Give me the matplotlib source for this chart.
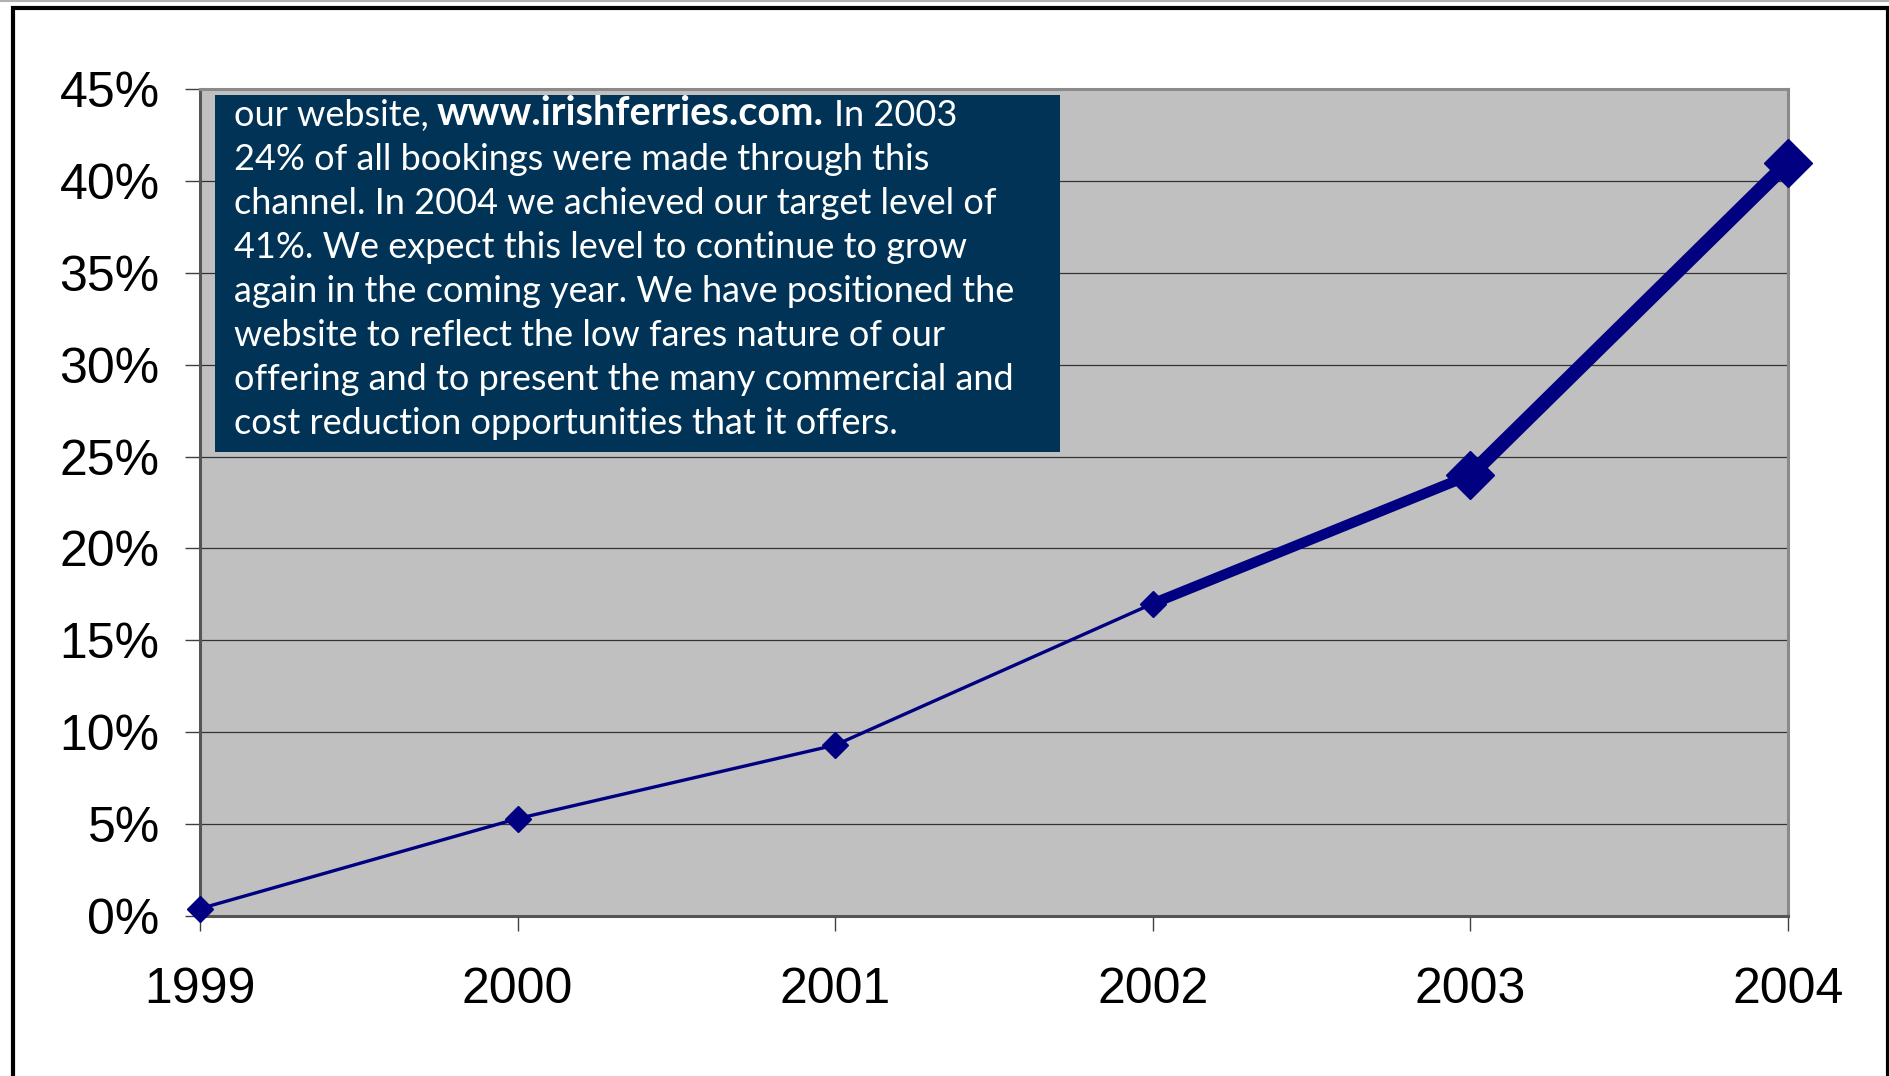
import matplotlib.pyplot as plt
from matplotlib.patches import Rectangle
from matplotlib.lines import Line2D
from matplotlib.text import Annotation

# web bookings as share of all bookings (%)
years = [1999, 2000, 2001, 2002, 2003, 2004]
share = [0.4, 5.3, 9.3, 17.0, 24.0, 41.0]
y_ticks = [0, 5, 10, 15, 20, 25, 30, 35, 40, 45]

# line gets heavier towards the end, like the original
seg_width = [2.4, 2.4, 2.4, 7.5, 10.5]
marker_size = [13, 13, 13, 13, 24, 24]

note_head = "our website,"
note_url = "www.irishferries.com."
note_tail = "In 2003"
note_lines = [
    "24% of all bookings were made through this",
    "channel. In 2004 we achieved our target level of",
    "41%. We expect this level to continue to grow",
    "again in the coming year. We have positioned the",
    "website to reflect the low fares nature of our",
    "offering and to present the many commercial and",
    "cost reduction opportunities that it offers.",
]

W, H = 1890, 1076
navy = '#000080'

fig = plt.figure(figsize=(W / 100, H / 100), dpi=100, facecolor='white')
ax = fig.add_axes([200 / W, 1 - 916 / H, (1788 - 200) / W, (916 - 89) / H])
ax.set_facecolor('#c0c0c0')

for i in range(len(years) - 1):
    ax.plot(years[i:i + 2], share[i:i + 2], color=navy, lw=seg_width[i],
            solid_capstyle='round', zorder=3, clip_on=False)
for x, y, ms in zip(years, share, marker_size):
    ax.plot([x], [y], marker='D', ms=ms, color=navy, mec=navy, zorder=4,
            clip_on=False)

ax.set_xlim(years[0], years[-1])
ax.set_ylim(0, 45)
ax.set_xticks(years)
ax.set_xticklabels([str(y) for y in years])
ax.set_yticks(y_ticks)
ax.set_yticklabels([f'{v}%' for v in y_ticks])
ax.yaxis.grid(True, color='#333333', lw=0.9)
ax.set_axisbelow(True)

ax.tick_params(axis='both', colors='#404040', width=1.0, length=11,
               labelcolor='black', labelsize=36)
ax.tick_params(axis='y', pad=18)
ax.tick_params(axis='x', pad=26)
for lab in ax.get_xticklabels() + ax.get_yticklabels():
    lab.set_family('Liberation Sans')

for side in ['top', 'right']:
    ax.spines[side].set_color('#8a8a8a')
    ax.spines[side].set_linewidth(2.2)
for side in ['left', 'bottom']:
    ax.spines[side].set_color('#555555')
    ax.spines[side].set_linewidth(2.2)

# outer frame, cut off at the bottom of the picture
fig.add_artist(Rectangle((13 / W, -0.05), (1888 - 13) / W, 1.05 - 8 / H,
                         transform=fig.transFigure, fill=False,
                         edgecolor='black', lw=3))
fig.add_artist(Line2D([0, 1], [1 - 1 / H, 1 - 1 / H], color='#b0b0b0',
                      lw=1.5, transform=fig.transFigure))

# text box pasted over the plot
fig.add_artist(Rectangle((215 / W, 1 - 452 / H), 845 / W, 357 / H,
                         transform=fig.transFigure, facecolor='#003355',
                         edgecolor='none', zorder=5))

fs = 26
tx = 234 / W
t0 = fig.text(tx, 1 - 126 / H, note_head, color='white', fontsize=fs,
              family='Lato', va='baseline', zorder=6)
t1 = fig.add_artist(Annotation(note_url, xy=(1, 0), xycoords=t0,
                               xytext=(6, 0), textcoords='offset points',
                               va='bottom', color='white', fontsize=28.5,
                               family='Lato', fontweight='bold', zorder=6))
fig.add_artist(Annotation(note_tail, xy=(1, 0), xycoords=t1, xytext=(7, 0),
                          textcoords='offset points', va='bottom',
                          color='white', fontsize=fs, family='Lato',
                          zorder=6))
for i, line in enumerate(note_lines):
    fig.text(tx, 1 - (126 + 44 * (i + 1)) / H, line, color='white',
             fontsize=fs, family='Lato', va='baseline', zorder=6)

fig.savefig('out.png', dpi=100, facecolor='white')
